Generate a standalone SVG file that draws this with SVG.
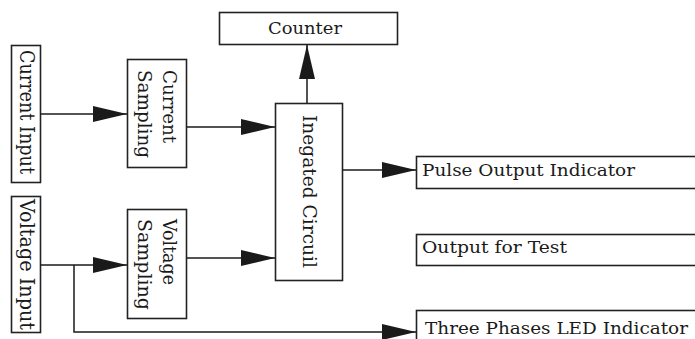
<svg xmlns="http://www.w3.org/2000/svg" width="695" height="339" viewBox="0 0 695 339">
<defs>
<marker id="ah" markerUnits="userSpaceOnUse" markerWidth="35" markerHeight="17" refX="34" refY="8" orient="auto">
<path d="M0,0 L34,8 L0,16 z" fill="#1a1a1a"/>
</marker>
<style>
.box{fill:#fff;stroke:#222;stroke-width:1.6}
.t{font-family:"DejaVu Serif","Liberation Serif",serif;fill:#1a1a1a}
.h{font-size:17.5px}
.v{font-size:18.5px}
.vi{font-size:20px}
.c{fill:none;stroke:#1a1a1a;stroke-width:1.5}
</style>
</defs>
<rect width="695" height="339" fill="#fff"/>
<g id="current-input">
<rect class="box" x="11.5" y="45.5" width="29" height="137"/>
<text class="t vi" transform="translate(20,50) rotate(90)" textLength="124" lengthAdjust="spacingAndGlyphs">Current Input</text>
</g>
<g id="voltage-input">
<rect class="box" x="11.5" y="196.5" width="29" height="136"/>
<text class="t vi" transform="translate(20,199) rotate(90)" textLength="131" lengthAdjust="spacingAndGlyphs">Voltage Input</text>
</g>
<g id="current-sampling">
<rect class="box" x="127.5" y="59.5" width="59" height="108"/>
<text class="t v" transform="translate(163,70) rotate(90)" textLength="73" lengthAdjust="spacingAndGlyphs">Current</text>
<text class="t v" transform="translate(138,70) rotate(90)" textLength="88" lengthAdjust="spacingAndGlyphs">Sampling</text>
</g>
<g id="voltage-sampling">
<rect class="box" x="127.5" y="209.5" width="59" height="109"/>
<text class="t v" transform="translate(163,219) rotate(90)" textLength="66" lengthAdjust="spacingAndGlyphs">Voltage</text>
<text class="t v" transform="translate(138,219) rotate(90)" textLength="91" lengthAdjust="spacingAndGlyphs">Sampling</text>
</g>
<g id="integrated-circuit">
<rect class="box" x="275.5" y="103.5" width="67" height="177"/>
<text class="t v" transform="translate(303,115) rotate(90)" textLength="153" lengthAdjust="spacingAndGlyphs">Inegated Circuil</text>
</g>
<g id="counter">
<rect class="box" x="219.5" y="12.5" width="178" height="32"/>
<text class="t h" x="268" y="34" textLength="74" lengthAdjust="spacingAndGlyphs">Counter</text>
</g>
<g id="pulse-output">
<rect class="box" x="416.5" y="156.5" width="290" height="32"/>
<text class="t h" x="422" y="176" textLength="213" lengthAdjust="spacingAndGlyphs">Pulse Output Indicator</text>
</g>
<g id="output-test">
<rect class="box" x="416.5" y="234.5" width="290" height="31"/>
<text class="t h" x="422" y="253" textLength="145" lengthAdjust="spacingAndGlyphs">Output for Test</text>
</g>
<g id="three-phases">
<rect class="box" x="416.5" y="310.5" width="290" height="40"/>
<text class="t h" x="425" y="334" textLength="263" lengthAdjust="spacingAndGlyphs">Three Phases LED Indicator</text>
</g>
<g id="connectors">
<line class="c" x1="40" y1="114" x2="127" y2="114" marker-end="url(#ah)"/>
<line class="c" x1="187" y1="127" x2="275" y2="127" marker-end="url(#ah)"/>
<line class="c" x1="307" y1="103" x2="307" y2="45" marker-end="url(#ah)"/>
<line class="c" x1="342" y1="170" x2="416" y2="170" marker-end="url(#ah)"/>
<line class="c" x1="40" y1="265" x2="127" y2="265" marker-end="url(#ah)"/>
<line class="c" x1="187" y1="258" x2="275" y2="258" marker-end="url(#ah)"/>
<polyline class="c" points="74,265 74,332 416,332" marker-end="url(#ah)"/>
</g>
</svg>
